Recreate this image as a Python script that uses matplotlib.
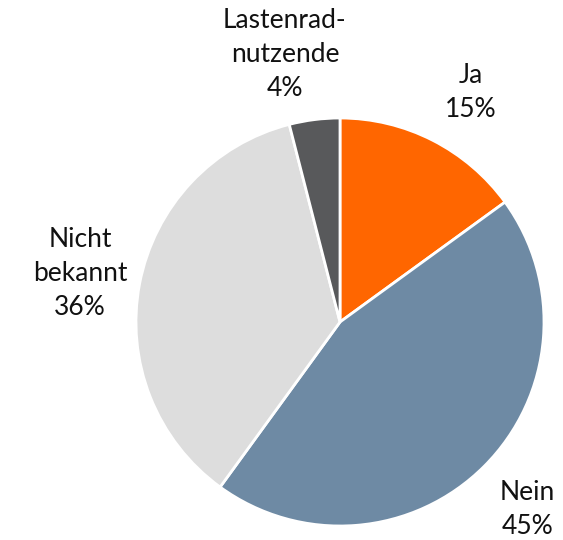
import matplotlib.pyplot as plt

labels = ['Ja', 'Nein', 'Nicht\nbekannt', 'Lastenrad-\nnutzende']
values = [15, 45, 36, 4]
colors = ['#FF6600', '#6E8AA4', '#DDDDDD', '#58595B']
# label centres in data units (pie radius = 1)
label_pos = [(0.64, 1.125), (0.92, -0.92), (-1.275, 0.24), (-0.27, 1.31)]

fig = plt.figure(figsize=(5.63, 5.4), dpi=100)
ax = fig.add_axes([136 / 563, 14 / 540, 408 / 563, 408 / 540])

ax.pie(values, colors=colors, startangle=90, counterclock=False,
       wedgeprops=dict(edgecolor='white', linewidth=2))
ax.set_xlim(-1, 1)
ax.set_ylim(-1, 1)
ax.set_aspect('equal')
ax.axis('off')

for lab, v, (x, y) in zip(labels, values, label_pos):
    ax.text(x, y, f'{lab}\n{v}%', ha='center', va='center', fontsize=19,
            family=['Lato', 'DejaVu Sans'], color='#111111',
            linespacing=1.45, clip_on=False)

fig.savefig('out.png', dpi=100)
